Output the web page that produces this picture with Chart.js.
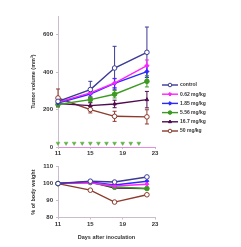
<!DOCTYPE html>
<html>
<head>
<meta charset="utf-8">
<script src="https://cdn.jsdelivr.net/npm/chart.js@4/dist/chart.umd.min.js"></script>
<style>
  html, body { margin: 0; padding: 0; background: #fff; }
  #wrap { position: relative; width: 241px; height: 247px; overflow: hidden; }
  canvas { position: absolute; left: 0; }
</style>
</head>
<body>
<div id="wrap">
  <canvas id="tumor" width="241" height="160" style="top:0"></canvas>
  <canvas id="weight" width="241" height="87" style="top:160px"></canvas>
</div>
<script>
// measurement days
const days = [11, 15, 18, 22];
const groups = ['control', '0.62 mg/kg', '1.85 mg/kg', '5.56 mg/kg', '16.7 mg/kg', '50 mg/kg'];
const colors = ['#3a3a96', '#ff22ff', '#2a2aff', '#3c9a22', '#4e0c50', '#8c3a2c'];
const pointFill = ['#ffffff', '#ff22ff', '#2a2aff', '#3c9a22', '#4e0c50', '#ffffff'];
const markers = ['circle', 'rectRot', 'rectRot', 'circle', 'triangle', 'circle'];

// tumor volume (mm3)
const volControl = [244, 307, 422, 506];
const vol062 = [240, 289, 342, 435];
const vol185 = [235, 283, 340, 403];
const vol556 = [227, 253, 282, 351];
const vol167 = [232, 221, 230, 253];
const vol50 = [262, 200, 164, 161];

// SEM of tumor volume
const errControl = [20, 44, 116, 135];
const err062 = [15, 20, 25, 30];
const err185 = [15, 20, 25, 30];
const err556 = [12, 15, 20, 30];
const err167 = [12, 15, 20, 44];
const err50 = [48, 18, 27, 38];

// % of body weight
const bwControl = [100, 101.4, 100.9, 103.9];
const bw062 = [100, 100.5, 98.6, 99.6];
const bw185 = [100, 101.0, 99.2, 101.4];
const bw556 = [100, 100.6, 98.0, 97.1];
const bw167 = [100, 100.9, 97.4, 97.0];
const bw50 = [100, 96.1, 89.1, 93.4];

// dosing days (green markers)
const doseDays = [11, 12, 13, 14, 15, 16, 17, 18, 19, 20, 21];
const doseLevel = [20, 20, 20, 20, 20, 20, 20, 20, 20, 20, 20];

const xTicks = [11, 15, 19, 23];
const volTicks = [0, 200, 400, 600];
const bwTicks = [80, 90, 100, 110];

const volSeries = [volControl, vol062, vol185, vol556, vol167, vol50];
const volErrors = [errControl, err062, err185, err556, err167, err50];
const bwSeries = [bwControl, bw062, bw185, bw556, bw167, bw50];

const tickFont = { family: 'Liberation Sans, Arial', size: 6, weight: 'bold' };
const titleFont = { family: 'Liberation Sans, Arial', size: 5.5, weight: 'bold' };
const axisColor = '#cbbccb';

function makeSets(series, errors) {
  return series.map((vals, i) => ({
    label: groups[i],
    data: days.map((d, j) => ({ x: d, y: vals[j] })),
    errors: errors ? errors[i] : null,
    borderColor: colors[i],
    backgroundColor: pointFill[i],
    pointBackgroundColor: pointFill[i],
    pointBorderColor: colors[i],
    pointStyle: markers[i],
    pointRadius: markers[i] === 'circle' ? 2.3 : 2,
    pointBorderWidth: 1,
    borderWidth: 1.4,
    tension: 0,
    clip: false
  }));
}

const errorBars = {
  id: 'errorBars',
  beforeDatasetsDraw(chart) {
    const ctx = chart.ctx, xs = chart.scales.x, ys = chart.scales.y;
    chart.data.datasets.forEach(ds => {
      if (!ds.errors) return;
      ctx.save();
      ctx.strokeStyle = ds.borderColor;
      ctx.lineWidth = 1;
      ds.data.forEach((p, i) => {
        const e = ds.errors[i];
        if (!e) return;
        const px = xs.getPixelForValue(p.x);
        const top = ys.getPixelForValue(p.y + e);
        const bot = ys.getPixelForValue(p.y - e);
        ctx.beginPath();
        ctx.moveTo(px, top); ctx.lineTo(px, bot);
        ctx.moveTo(px - 2, top); ctx.lineTo(px + 2, top);
        ctx.moveTo(px - 2, bot); ctx.lineTo(px + 2, bot);
        ctx.stroke();
      });
      ctx.restore();
    });
  }
};

// legend drawn inside the right margin
const sideLegend = {
  id: 'sideLegend',
  afterDraw(chart) {
    const ctx = chart.ctx;
    const x0 = 162, x1 = 178, tx = 180;
    let y = 85;
    ctx.save();
    ctx.font = 'bold 5px "Liberation Sans", Arial';
    ctx.textBaseline = 'middle';
    chart.data.datasets.forEach((ds, i) => {
      if (!ds.errors) return;
      ctx.strokeStyle = ds.borderColor;
      ctx.fillStyle = ds.pointBackgroundColor;
      ctx.lineWidth = 1.4;
      ctx.beginPath(); ctx.moveTo(x0, y); ctx.lineTo(x1, y); ctx.stroke();
      ctx.lineWidth = 1;
      Chart.helpers.drawPoint(ctx, {
        pointStyle: ds.pointStyle, radius: 1.8, borderWidth: 1
      }, (x0 + x1) / 2, y);
      ctx.fillStyle = '#333';
      ctx.fillText(ds.label, tx, y);
      y += 9.2;
    });
    ctx.restore();
  }
};

function xScale(height, titleText) {
  return {
    type: 'linear', min: 11, max: 23,
    afterBuildTicks: s => { s.ticks = xTicks.map(v => ({ value: v })); },
    afterFit: s => { s.height = height; },
    grid: { drawOnChartArea: false, tickLength: 2, color: axisColor },
    border: { color: axisColor },
    ticks: { font: tickFont, color: '#333', padding: 1, maxRotation: 0 },
    title: titleText ? { display: true, text: titleText, font: titleFont, color: '#333', padding: { top: 0, bottom: 6 } } : { display: false }
  };
}

function yScale(min, max, tickVals, titleText) {
  return {
    type: 'linear', min: min, max: max,
    afterBuildTicks: s => { s.ticks = tickVals.map(v => ({ value: v })); },
    afterFit: s => { s.width = 58; },
    grid: { drawOnChartArea: false, tickLength: 2, color: axisColor },
    border: { color: axisColor },
    ticks: { font: tickFont, color: '#333', padding: 3 },
    title: { display: true, text: titleText, font: titleFont, color: '#333', padding: { top: 30, bottom: 0 } }
  };
}

const tumorSets = makeSets(volSeries, volErrors);
tumorSets.push({
  label: '',
  data: doseDays.map((d, j) => ({ x: d, y: doseLevel[j] })),
  showLine: false,
  clip: false,
  pointStyle: 'triangle',
  rotation: 180,
  pointRadius: 2.2,
  pointBackgroundColor: '#5cb040',
  pointBorderColor: '#5cb040',
  pointBorderWidth: 0.5
});

const tumorX = xScale(13, null);
tumorX.border = { color: '#e38ce3', dash: [1, 1] };

new Chart(document.getElementById('tumor'), {
  type: 'line',
  data: { datasets: tumorSets },
  options: {
    responsive: false,
    animation: false,
    devicePixelRatio: 1,
    layout: { padding: { top: 16, right: 86, left: 0, bottom: 0 } },
    plugins: { legend: { display: false }, tooltip: { enabled: false } },
    scales: {
      x: tumorX,
      y: yScale(0, 700, volTicks, 'Tumor volume (mm³)')
    }
  },
  plugins: [errorBars, sideLegend]
});

new Chart(document.getElementById('weight'), {
  type: 'line',
  data: { datasets: makeSets(bwSeries, null) },
  options: {
    responsive: false,
    animation: false,
    devicePixelRatio: 1,
    layout: { padding: { top: 5, right: 86, left: 0, bottom: 0 } },
    plugins: { legend: { display: false }, tooltip: { enabled: false } },
    scales: {
      x: xScale(29.5, 'Days after inoculation'),
      y: yScale(80, 110, bwTicks, '% of body weight')
    }
  }
});
</script>
</body>
</html>
